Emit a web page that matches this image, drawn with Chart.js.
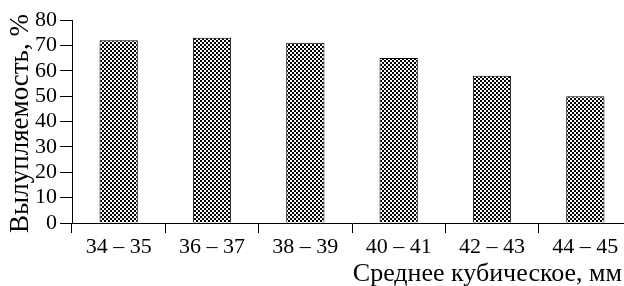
<!DOCTYPE html>
<html>
<head>
<meta charset="utf-8">
<script src="https://cdn.jsdelivr.net/npm/chart.js@4.4.1/dist/chart.umd.min.js"></script>
<style>
  html, body { margin: 0; padding: 0; background: #fff; overflow: hidden; }
  #wrap { width: 632px; height: 286px; }
</style>
</head>
<body>
<div id="wrap"><canvas id="hatchChart" width="632" height="286"></canvas></div>
<script>
// Data
const categories = ['34 – 35', '36 – 37', '38 – 39', '40 – 41', '42 – 43', '44 – 45'];
const hatchability = [72, 73, 71, 65, 58, 50];
const yTicks = [0, 10, 20, 30, 40, 50, 60, 70, 80];
const yTitle = 'Вылупляемость, %';
const xTitle = 'Среднее кубическое, мм';

const FONT = '"Liberation Serif", "Times New Roman", serif';

// checkerboard fill for the bars
function checkerPattern() {
    const c = document.createElement('canvas');
    c.width = 4;
    c.height = 4;
    const g = c.getContext('2d');
    g.fillStyle = '#fff';
    g.fillRect(0, 0, 4, 4);
    g.fillStyle = '#000';
    g.fillRect(0, 0, 2, 2);
    g.fillRect(2, 2, 2, 2);
    return g.createPattern(c, 'repeat');
}

// axis titles drawn as text on the canvas
const axisTitles = {
    id: 'axisTitles',
    afterDraw(chart) {
        const ctx = chart.ctx;
        const area = chart.chartArea;
        ctx.save();
        ctx.fillStyle = '#000';
        ctx.font = '26px ' + FONT;
        ctx.textBaseline = 'middle';
        ctx.textAlign = 'right';
        ctx.fillText(xTitle, 622, 274);
        ctx.font = '27px ' + FONT;
        ctx.translate(21, (area.top + area.bottom) / 2 + 2);
        ctx.rotate(-Math.PI / 2);
        ctx.textAlign = 'center';
        ctx.fillText(yTitle, 0, 0);
        ctx.restore();
    }
};

const hatchCanvas = document.getElementById('hatchChart');

const hatchChart = new Chart(hatchCanvas, {
    type: 'bar',
    data: {
        labels: categories,
        datasets: [{
            data: hatchability,
            backgroundColor: checkerPattern(),
            borderColor: '#000',
            borderWidth: 1,
            categoryPercentage: 1,
            barPercentage: 0.41
        }]
    },
    options: {
        responsive: false,
        animation: false,
        layout: { padding: { top: 20, right: 0, bottom: 0, left: 0 } },
        plugins: {
            legend: { display: false },
            tooltip: { enabled: false }
        },
        scales: {
            x: {
                offset: true,
                grid: {
                    offset: true,
                    drawOnChartArea: false,
                    drawTicks: true,
                    tickLength: 10,
                    color: '#000',
                    lineWidth: 1
                },
                border: { display: true, color: '#000', width: 1 },
                ticks: {
                    color: '#000',
                    font: { family: FONT, size: 22 },
                    padding: 1,
                    maxRotation: 0,
                    autoSkip: false
                },
                afterFit(scale) { scale.height = 63; }
            },
            y: {
                min: 0,
                max: 80,
                afterBuildTicks(scale) {
                    scale.ticks = yTicks.map(v => ({ value: v }));
                },
                grid: {
                    drawOnChartArea: false,
                    drawTicks: true,
                    tickLength: 12,
                    color: '#000',
                    lineWidth: 1
                },
                border: { display: true, color: '#000', width: 1 },
                ticks: {
                    color: '#000',
                    font: { family: FONT, size: 22 },
                    padding: 3,
                    autoSkip: false
                },
                afterFit(scale) { scale.width = 72; }
            }
        }
    },
    plugins: [axisTitles]
});
</script>
</body>
</html>
